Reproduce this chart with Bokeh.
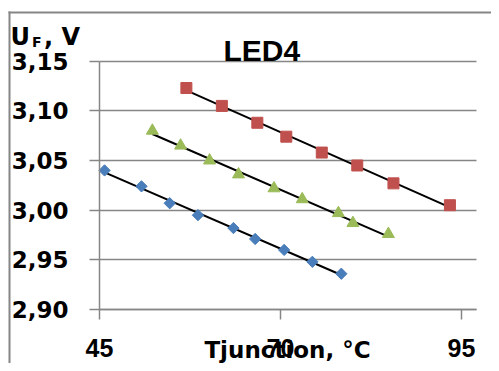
import numpy as np
from bokeh.plotting import figure
from bokeh.models import (Range1d, FixedTicker, CustomJSTickFormatter, Label,
                          BoxAnnotation)
from bokeh.embed import file_html
from bokeh.resources import INLINE

# ---- data ----
blue_t = [45.7, 50.8, 54.7, 58.6, 63.5, 66.5, 70.5, 74.4, 78.4]
blue_u = [3.040, 3.024, 3.007, 2.995, 2.982, 2.971, 2.960, 2.948, 2.936]

green_t = [52.3, 56.2, 60.2, 64.2, 69.1, 73.0, 78.0, 80.0, 84.9]
green_u = [3.080, 3.065, 3.050, 3.036, 3.022, 3.011, 2.997, 2.987, 2.976]

red_t = [57.0, 61.9, 66.8, 70.8, 75.7, 80.6, 85.6, 93.4]
red_u = [3.123, 3.105, 3.088, 3.074, 3.058, 3.045, 3.027, 3.005]

x_ticks = [45, 70, 95]
y_ticks = [2.90, 2.95, 3.00, 3.05, 3.10, 3.15]
x_min, x_max = 45, 97.07
y_min, y_max = 2.90, 3.15

title_text = "LED4"
x_title = "Tjunction, °C"

GRID = "#868686"

# ---- layout (pixels) ----
W, H = 491, 363                       # canvas
PL, PR, PT, PB = 99, 476, 60.7, 309   # plot area inside the canvas
sx = (PR - PL) / (x_max - x_min)
sy = (PB - PT) / (y_max - y_min)
x_range = Range1d(x_min - PL / sx, x_max + (W - PR) / sx)
y_range = Range1d(y_min - (H - PB) / sy, y_max + PT / sy)

p = figure(width=W, height=H, output_backend="svg", toolbar_location=None,
           x_range=x_range, y_range=y_range,
           min_border=0, min_border_left=0, min_border_right=0,
           min_border_top=0, min_border_bottom=0)
p.outline_line_color = None
p.background_fill_color = "white"
p.border_fill_color = "white"

# axes at fixed positions
p.xaxis.fixed_location = y_min
p.yaxis.fixed_location = x_min
p.xaxis.bounds = (x_min, x_max)
p.yaxis.bounds = (y_min, y_max)
p.xaxis.ticker = FixedTicker(ticks=x_ticks)
p.yaxis.ticker = FixedTicker(ticks=y_ticks)
p.yaxis.formatter = CustomJSTickFormatter(code="return tick.toFixed(2).replace('.', ',');")
for ax in (p.xaxis[0], p.yaxis[0]):
    ax.axis_line_color = GRID
    ax.axis_line_width = 1.5
    ax.major_tick_line_color = GRID
    ax.major_tick_line_width = 1.5
    ax.major_tick_out = 10
    ax.major_tick_in = 0
    ax.minor_tick_line_color = None
    ax.major_label_text_color = "black"
    ax.major_label_text_font_style = "bold"

p.xaxis.major_label_text_font = "Liberation Sans"
p.xaxis.major_label_text_font_size = "25px"
p.xaxis.major_label_standoff = 19
p.yaxis.major_label_text_font = "DejaVu Sans"
p.yaxis.major_label_text_font_size = "23px"
p.yaxis.major_label_standoff = 21

p.xgrid.grid_line_color = None
p.ygrid.grid_line_color = GRID
p.ygrid.grid_line_width = 1.5
p.ygrid.bounds = (y_min, y_max)
p.ygrid.cross_bounds = (x_min, x_max)

# outer chart border (left and top edges), canvas pixels, y from bottom
p.add_layout(BoxAnnotation(left=8, right=10, bottom=0, top=H - 11,
                           left_units="screen", right_units="screen",
                           bottom_units="screen", top_units="screen",
                           fill_color=GRID, fill_alpha=1, line_color=None))
p.add_layout(BoxAnnotation(left=8, right=W, bottom=H - 13, top=H - 11,
                           left_units="screen", right_units="screen",
                           bottom_units="screen", top_units="screen",
                           fill_color=GRID, fill_alpha=1, line_color=None))

# trend lines (least squares from the data)
for t, u in ((blue_t, blue_u), (green_t, green_u), (red_t, red_u)):
    k, b = np.polyfit(t, u, 1)
    xs = [min(t), max(t)]
    p.line(xs, [k * xs[0] + b, k * xs[1] + b], line_color="black", line_width=2)

# markers
p.scatter(blue_t, blue_u, marker="square", angle=np.pi / 4, size=8,
          fill_color="#4A7EBB", line_color="#4A7EBB")
p.scatter(green_t, green_u, marker="triangle", size=12,
          fill_color="#9BBB59", line_color="#9BBB59")
p.scatter(red_t, red_u, marker="square", size=11,
          fill_color="#C0504D", line_color="#C0504D")


def lab(text, x, base, size, font, align="left"):
    # base = wanted baseline, canvas pixels from the top
    p.add_layout(Label(x=x, y=H - base + 0.35 * size, x_units="screen",
                       y_units="screen", text=text,
                       text_font=font, text_font_size=f"{size}px",
                       text_font_style="bold", text_color="black",
                       text_align=align, text_baseline="alphabetic"))


lab(title_text, 223, 60, 30, "Liberation Sans")
lab(x_title, 287, 357.5, 23, "DejaVu Sans", "center")
lab("U", 10, 45, 24, "DejaVu Sans")
lab("F", 31.5, 46, 14, "DejaVu Sans")
lab(", V", 43.5, 45, 24, "DejaVu Sans")

open("out.html", "w").write(file_html(p, INLINE))
